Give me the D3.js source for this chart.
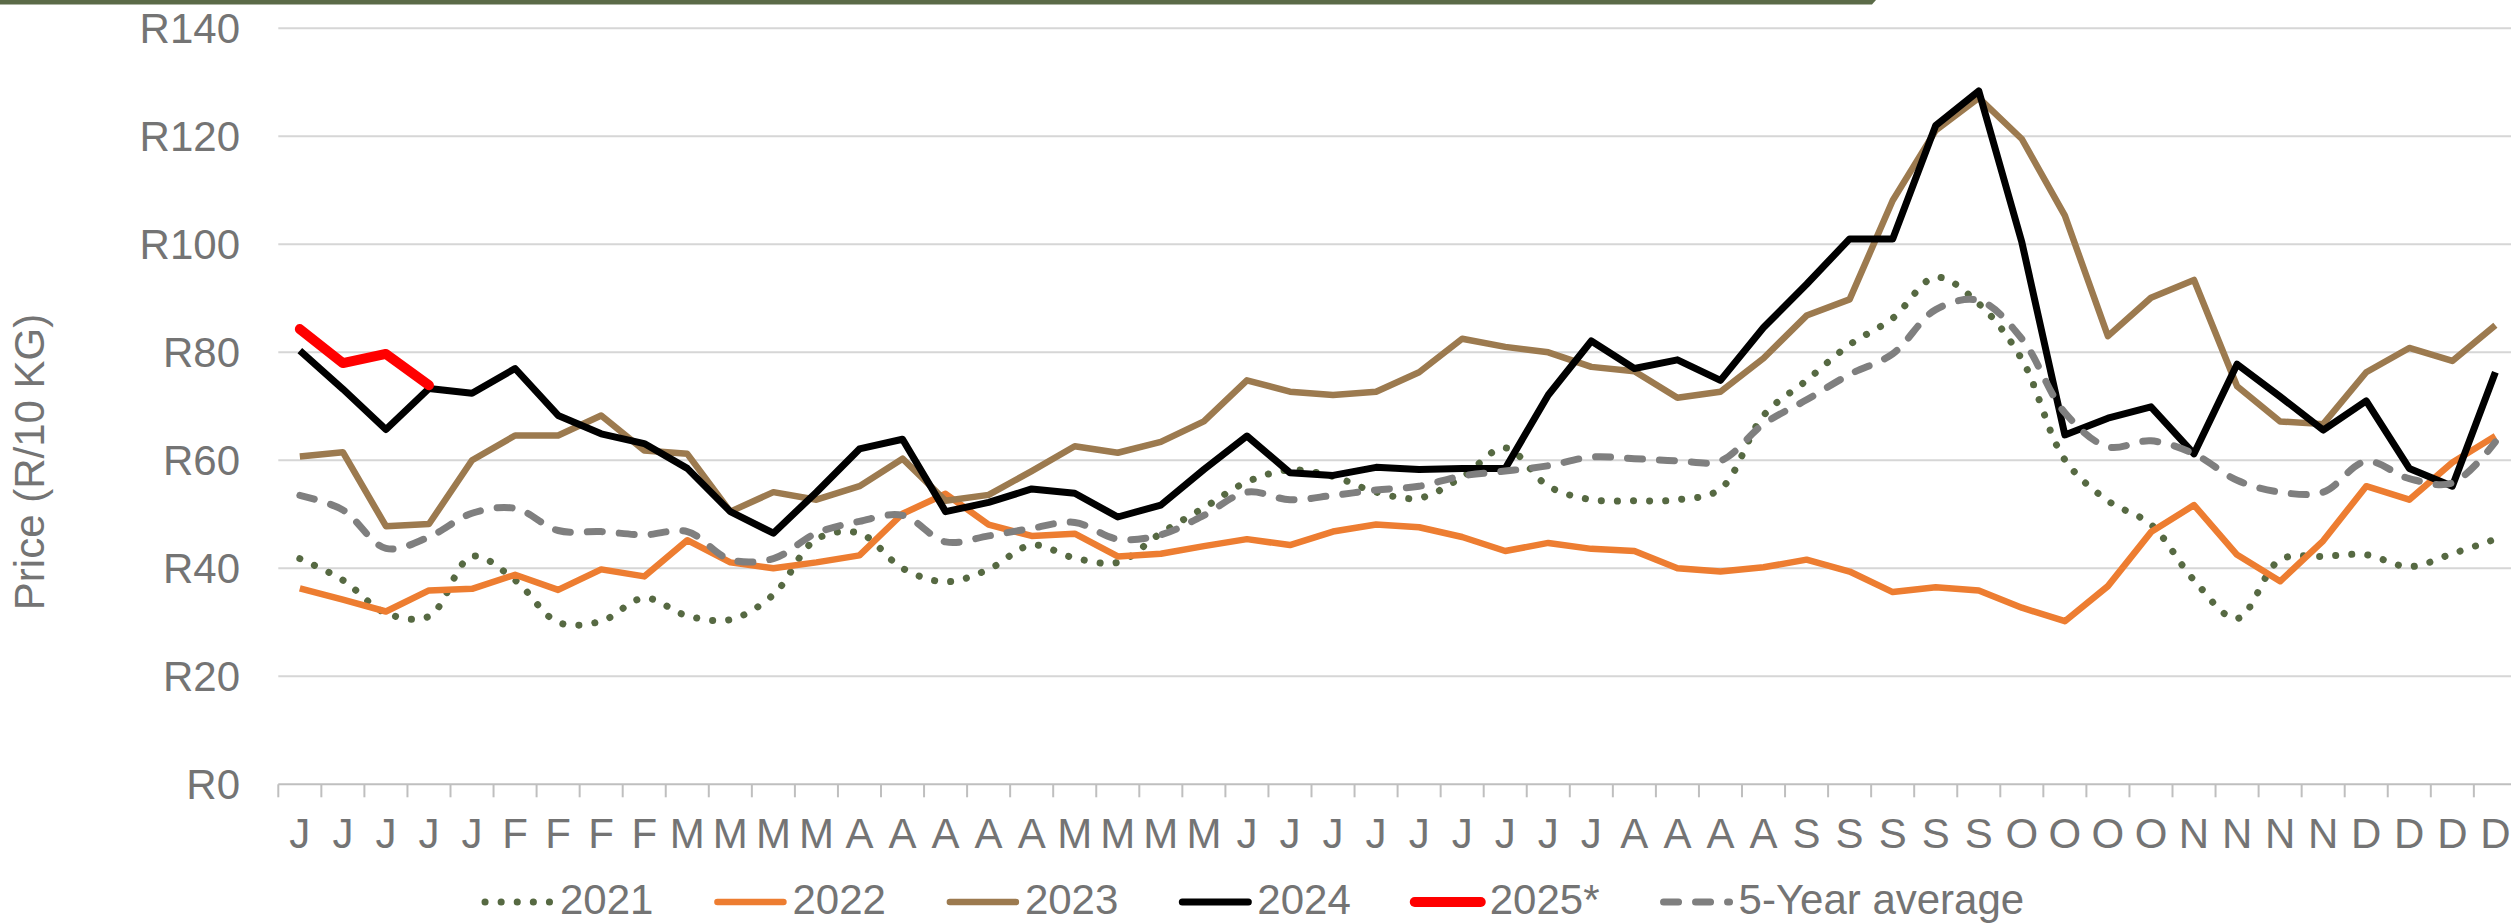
<!DOCTYPE html>
<html>
<head>
<meta charset="utf-8">
<script src="https://cdn.jsdelivr.net/npm/d3@7"></script>
<style>
  body { margin: 0; background: #fff; }
  svg text { font-family: "Liberation Sans", Arial, sans-serif; fill: #747474; }
</style>
</head>
<body>
<div id="chart"></div>
<script>
// weekly labels (first letter of month), 52 weeks
var weeks = ["J","J","J","J","J","F","F","F","F","M","M","M","M","A","A","A","A","A",
  "M","M","M","M","J","J","J","J","J","J","J","J","J","A","A","A","A",
  "S","S","S","S","S","O","O","O","O","N","N","N","N","D","D","D","D"];

var yTicks = [0, 20, 40, 60, 80, 100, 120, 140];

var y2021 = [41.8, 37.8, 31.7, 31.1, 42.2, 37.8, 30.0, 30.2, 34.5, 31.2, 30.5, 35.1, 45.4, 46.5, 40.0, 37.5, 39.8, 44.3, 41.9, 41.1,
  46.5, 51.2, 56.0, 58.2, 57.0, 54.1, 53.0, 56.9, 62.3, 55.2, 52.7, 52.5, 52.7, 54.7, 68.3, 74.8, 81.4, 86.3, 93.9, 89.0,
  78.7, 60.1, 52.5, 48.1, 37.8, 30.7, 41.6, 42.2, 42.5, 40.3, 42.7, 45.4];
var y2022 = [36.3, 34.2, 32.0, 35.9, 36.2, 38.8, 36.0, 39.8, 38.5, 45.2, 41.1, 40.0, 41.1, 42.4, 50.1, 53.8, 48.1, 46.0, 46.4, 42.2,
  42.7, 44.1, 45.4, 44.3, 46.8, 48.1, 47.6, 45.8, 43.2, 44.7, 43.6, 43.2, 40.0, 39.4, 40.2, 41.6, 39.4, 35.6, 36.5, 35.9,
  32.7, 30.2, 36.7, 46.7, 51.7, 42.5, 37.6, 45.1, 55.2, 52.7, 59.6, 64.5];
var y2023 = [60.7, 61.5, 47.8, 48.2, 60.0, 64.6, 64.6, 68.3, 61.8, 61.2, 50.5, 54.1, 52.7, 55.2, 60.3, 52.5, 53.6, 58.0, 62.6, 61.4,
  63.4, 67.2, 74.8, 72.7, 72.1, 72.7, 76.3, 82.5, 81.0, 80.0, 77.3, 76.5, 71.6, 72.7, 78.9, 86.8, 89.8, 108.1, 121.1, 127.1,
  119.5, 105.3, 83.0, 90.1, 93.4, 73.7, 67.2, 66.7, 76.3, 80.8, 78.4, 85.0];
var y2024 = [80.3, 73.2, 65.7, 73.3, 72.4, 77.0, 68.3, 64.9, 63.1, 58.5, 50.5, 46.5, 54.1, 62.1, 63.9, 50.5, 52.2, 54.7, 53.9, 49.5,
  51.7, 58.3, 64.5, 57.7, 57.2, 58.7, 58.3, 58.5, 58.5, 72.1, 82.1, 77.0, 78.6, 74.8, 84.6, 92.6, 101.0, 101.0, 122.0, 128.4,
  100.4, 64.7, 67.8, 69.9, 61.2, 77.8, 71.8, 65.6, 71.0, 58.5, 55.2, 76.3];
var y2025 = [84.3, 78.0, 79.7, 73.9];
var yAvg = [53.5, 50.8, 43.7, 45.8, 50.2, 51.1, 47.0, 46.8, 46.2, 46.8, 41.6, 41.8, 46.5, 48.7, 49.8, 44.9, 46.0, 47.4, 48.5, 45.4,
  46.2, 49.8, 54.1, 52.7, 53.5, 54.5, 55.2, 57.1, 58.0, 59.0, 60.6, 60.3, 59.9, 59.9, 66.7, 71.2, 75.9, 79.7, 87.9, 89.6,
  82.5, 68.8, 62.5, 63.6, 61.2, 56.3, 54.1, 54.1, 59.8, 56.6, 55.8, 63.4];

var W = 2511, H = 923;
var plot = {left: 278.3, top: 28.3, bottom: 784.3, step: 43.05};

var series = [
  {name: "2021", values: y2021, color: "#566942", width: 7, dash: "0.1 16", smooth: true},
  {name: "2022", values: y2022, color: "#ed7d31", width: 6.5},
  {name: "2023", values: y2023, color: "#9c7a4f", width: 6.5},
  {name: "2024", values: y2024, color: "#000000", width: 7},
  {name: "2025*", values: y2025, color: "#ff0000", width: 10},
  {name: "5-Year average", values: yAvg, color: "#7f7f7f", width: 7, dash: "15 17", smooth: true}
];

var svg = d3.select("#chart").append("svg")
    .attr("width", W)
    .attr("height", H);

// header bar
svg.append("path")
    .attr("d", "M0,0 H1876 L1872,4.5 H0 Z")
    .attr("fill", "#5b6b48");

var x = d3.scaleBand()
    .domain(d3.range(weeks.length))
    .range([plot.left, plot.left + plot.step * weeks.length])
    .paddingInner(0).paddingOuter(0);

var y = d3.scaleLinear()
    .domain([0, 140])
    .range([plot.bottom, plot.top]);

function cx(i) { return x(i) + x.bandwidth() / 2; }

// gridlines
svg.append("g").selectAll("line")
    .data(yTicks.filter(function(d) { return d > 0; }))
  .enter().append("line")
    .attr("x1", plot.left).attr("x2", W)
    .attr("y1", function(d) { return y(d); })
    .attr("y2", function(d) { return y(d); })
    .attr("stroke", "#d6d6d6")
    .attr("stroke-width", 2);

// y labels
svg.append("g").selectAll("text")
    .data(yTicks)
  .enter().append("text")
    .attr("x", 240)
    .attr("y", function(d) { return y(d); })
    .attr("dy", "0.36em")
    .attr("text-anchor", "end")
    .style("font-size", "42px")
    .text(function(d) { return "R" + d; });

// y title
svg.append("text")
    .attr("transform", "translate(44,462) rotate(-90)")
    .attr("text-anchor", "middle")
    .style("font-size", "42px")
    .text("Price (R/10 KG)");

// x axis line + ticks at category boundaries
var xa = svg.append("g");
xa.append("line")
    .attr("x1", plot.left).attr("x2", W)
    .attr("y1", plot.bottom).attr("y2", plot.bottom)
    .attr("stroke", "#bfbfbf").attr("stroke-width", 2);
xa.selectAll(".tk")
    .data(d3.range(weeks.length + 1))
  .enter().append("line")
    .attr("class", "tk")
    .attr("x1", function(i) { return plot.left + i * x.step(); })
    .attr("x2", function(i) { return plot.left + i * x.step(); })
    .attr("y1", plot.bottom).attr("y2", plot.bottom + 13)
    .attr("stroke", "#bfbfbf").attr("stroke-width", 2);
xa.selectAll("text")
    .data(weeks)
  .enter().append("text")
    .attr("x", function(d, i) { return cx(i); })
    .attr("y", 848)
    .attr("text-anchor", "middle")
    .style("font-size", "42px")
    .text(function(d) { return d; });

// lines
series.forEach(function(s) {
  var line = d3.line()
      .x(function(d, i) { return cx(i); })
      .y(function(d) { return y(d); })
      .curve(s.smooth ? d3.curveCatmullRom.alpha(0.5) : d3.curveLinear);
  svg.append("path")
      .datum(s.values)
      .attr("d", line)
      .attr("fill", "none")
      .attr("stroke", s.color)
      .attr("stroke-width", s.width)
      .attr("stroke-linejoin", "round")
      .attr("stroke-linecap", s.dash || s.name === "2025*" ? "round" : "butt")
      .attr("stroke-dasharray", s.dash || null);
});

// legend
var lx = 481, ly = 902;
series.forEach(function(s) {
  var g = svg.append("g");
  g.append("line")
      .attr("x1", lx + 4).attr("x2", lx + 70)
      .attr("y1", ly).attr("y2", ly)
      .attr("stroke", s.color)
      .attr("stroke-width", s.width)
      .attr("stroke-linecap", "round")
      .attr("stroke-dasharray", s.dash || null);
  var t = g.append("text")
      .attr("x", lx + 79)
      .attr("y", 914)
      .style("font-size", "42px")
      .text(s.name);
  lx += 79 + t.node().getComputedTextLength() + 60;
});
</script>
</body>
</html>
